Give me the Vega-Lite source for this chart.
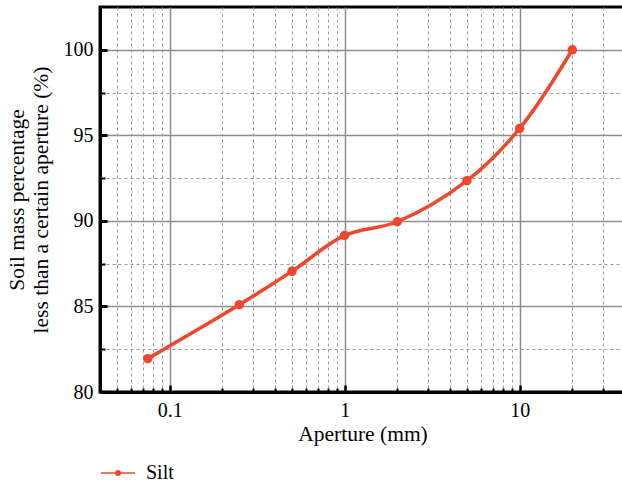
{
  "$schema": "https://vega.github.io/schema/vega-lite/v6.json",
  "autosize": "none",
  "width": 525,
  "height": 385,
  "padding": {"left": 100, "top": 7, "right": 0, "bottom": 93},
  "config": {
    "font": "Liberation Serif",
    "view": {"stroke": "#000000", "strokeWidth": 3},
    "axis": {
      "domainColor": "#000000",
      "domainWidth": 3,
      "tickColor": "#000000",
      "labelFont": "Liberation Serif",
      "titleFont": "Liberation Serif",
      "labelFontSize": 20,
      "titleFontSize": 21.5,
      "labelColor": "#000000",
      "titleColor": "#000000",
      "titleFontWeight": "normal"
    }
  },
  "data": {
    "values": [
      {"aperture": 0.075, "percent": 81.95, "soil": "Silt"},
      {"aperture": 0.25, "percent": 85.1, "soil": "Silt"},
      {"aperture": 0.5, "percent": 87.05, "soil": "Silt"},
      {"aperture": 1, "percent": 89.15, "soil": "Silt"},
      {"aperture": 2, "percent": 89.95, "soil": "Silt"},
      {"aperture": 5, "percent": 92.35, "soil": "Silt"},
      {"aperture": 10, "percent": 95.4, "soil": "Silt"},
      {"aperture": 20, "percent": 100, "soil": "Silt"}
    ]
  },
  "encoding": {
    "x": {
      "field": "aperture",
      "type": "quantitative",
      "scale": {"type": "log", "domain": [0.04, 40], "nice": false},
      "axis": {
        "title": "Aperture (mm)",
        "titlePadding": 3,
        "values": [0.05, 0.06, 0.07, 0.08, 0.09, 0.1, 0.2, 0.3, 0.4, 0.5, 0.6, 0.7, 0.8, 0.9, 1, 2, 3, 4, 5, 6, 7, 8, 9, 10, 20, 30],
        "labelExpr": "abs(log(datum.value)/LN10 - round(log(datum.value)/LN10)) < 0.001 ? format(datum.value, '~g') : ''",
        "labelPadding": 15,
        "grid": true,
        "gridColor": {"condition": {"test": "abs(log(datum.value)/LN10 - round(log(datum.value)/LN10)) < 0.001", "value": "#8c8c8c"}, "value": "#9a9a9a"},
        "gridDash": {"condition": {"test": "abs(log(datum.value)/LN10 - round(log(datum.value)/LN10)) < 0.001", "value": []}, "value": [3, 3]},
        "gridWidth": {"condition": {"test": "abs(log(datum.value)/LN10 - round(log(datum.value)/LN10)) < 0.001", "value": 1.5}, "value": 1},
        "tickSize": {"condition": {"test": "abs(log(datum.value)/LN10 - round(log(datum.value)/LN10)) < 0.001", "value": -7}, "value": -4},
        "tickWidth": {"condition": {"test": "abs(log(datum.value)/LN10 - round(log(datum.value)/LN10)) < 0.001", "value": 2.5}, "value": 2}
      }
    },
    "y": {
      "field": "percent",
      "type": "quantitative",
      "scale": {"domain": [80, 102.5], "nice": false, "zero": false},
      "axis": {
        "title": ["Soil mass percentage", "less than a certain aperture (%)"],
        "titlePadding": 11,
        "titleLineHeight": 24,
        "values": [80, 82.5, 85, 87.5, 90, 92.5, 95, 97.5, 100],
        "labelExpr": "datum.value % 5 == 0 ? format(datum.value, 'd') : ''",
        "labelPadding": 14,
        "grid": true,
        "gridColor": {"condition": {"test": "datum.value % 5 == 0", "value": "#8c8c8c"}, "value": "#9a9a9a"},
        "gridDash": {"condition": {"test": "datum.value % 5 == 0", "value": []}, "value": [3, 3]},
        "gridWidth": {"condition": {"test": "datum.value % 5 == 0", "value": 1.5}, "value": 1},
        "tickSize": {"condition": {"test": "datum.value % 5 == 0", "value": -7}, "value": -5},
        "tickWidth": {"condition": {"test": "datum.value % 5 == 0", "value": 3}, "value": 2}
      }
    },
    "color": {
      "field": "soil",
      "type": "nominal",
      "scale": {"domain": ["Silt"], "range": ["#F0462B"]},
      "legend": {
        "title": null,
        "orient": "bottom",
        "offset": 10,
        "padding": 0,
        "symbolType": "M-1,0H1M-0.13,0a0.13,0.13 0 1,0 0.26,0a0.13,0.13 0 1,0 -0.26,0",
        "symbolSize": 1156,
        "symbolStrokeWidth": 1.5,
        "symbolFillColor": "#F0462B",
        "symbolStrokeColor": "#F0462B",
        "labelFontSize": 20,
        "labelFont": "Liberation Serif",
        "labelColor": "#000000",
        "labelOffset": 10
      }
    }
  },
  "layer": [
    {"mark": {"type": "line", "interpolate": "catmull-rom", "strokeWidth": 3.5}},
    {"mark": {"type": "point", "shape": "circle", "filled": true, "opacity": 1, "size": 90}, "encoding": {"color": {"field": "soil", "type": "nominal", "legend": null}}}
  ]
}
